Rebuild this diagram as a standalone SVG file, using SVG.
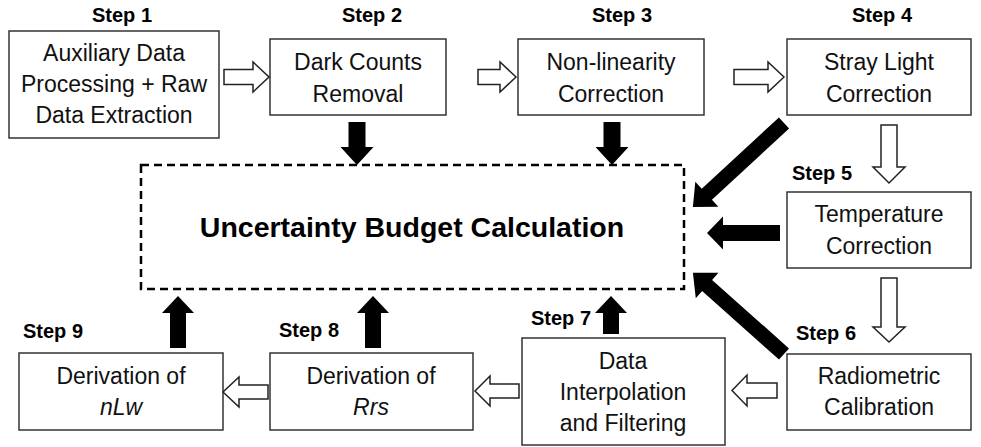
<svg xmlns="http://www.w3.org/2000/svg" width="981" height="447" viewBox="0 0 981 447">
  <style>
    .box { fill: #ffffff; stroke: #333333; stroke-width: 1.5; }
    .budget { fill: none; stroke: #000000; stroke-width: 2.5; stroke-dasharray: 8 5; }
    .txt { font-family: "Liberation Sans", Arial, sans-serif; font-size: 23px; fill: #111111; text-anchor: middle; }
    .step { font-family: "Liberation Sans", Arial, sans-serif; font-size: 20px; font-weight: bold; fill: #000000; }
    .title { font-family: "Liberation Sans", Arial, sans-serif; font-size: 28.5px; font-weight: bold; fill: #000000; text-anchor: middle; }
    .flow { fill: #ffffff; stroke: #222222; stroke-width: 1.5; stroke-linejoin: miter; }
    .unc { fill: #000000; stroke: none; }
  </style>

  <!-- central uncertainty budget -->
  <g id="budget">
    <rect class="budget" x="141" y="165" width="543" height="124"/>
    <text class="title" x="412" y="237">Uncertainty Budget Calculation</text>
  </g>

  <g id="step1">
    <text class="step" x="92" y="22">Step 1</text>
    <rect class="box" x="9" y="31" width="210" height="107"/>
    <text class="txt" x="114" y="61">Auxiliary Data</text>
    <text class="txt" x="114" y="92">Processing + Raw</text>
    <text class="txt" x="114" y="123">Data Extraction</text>
  </g>

  <g id="step2">
    <text class="step" x="342" y="22">Step 2</text>
    <rect class="box" x="270" y="39" width="176" height="76"/>
    <text class="txt" x="358" y="70">Dark Counts</text>
    <text class="txt" x="358" y="102">Removal</text>
  </g>

  <g id="step3">
    <text class="step" x="592" y="22">Step 3</text>
    <rect class="box" x="518" y="39" width="186" height="76"/>
    <text class="txt" x="611" y="70">Non-linearity</text>
    <text class="txt" x="611" y="102">Correction</text>
  </g>

  <g id="step4">
    <text class="step" x="852" y="22">Step 4</text>
    <rect class="box" x="787" y="39" width="184" height="76"/>
    <text class="txt" x="879" y="70">Stray Light</text>
    <text class="txt" x="879" y="102">Correction</text>
  </g>

  <g id="step5">
    <text class="step" x="792" y="180">Step 5</text>
    <rect class="box" x="787" y="192" width="184" height="76"/>
    <text class="txt" x="879" y="222">Temperature</text>
    <text class="txt" x="879" y="254">Correction</text>
  </g>

  <g id="step6">
    <text class="step" x="796" y="340">Step 6</text>
    <rect class="box" x="787" y="354" width="184" height="76"/>
    <text class="txt" x="879" y="384">Radiometric</text>
    <text class="txt" x="879" y="415">Calibration</text>
  </g>

  <g id="step7">
    <text class="step" x="531" y="325">Step 7</text>
    <rect class="box" x="522" y="338" width="203" height="107"/>
    <text class="txt" x="623" y="369">Data</text>
    <text class="txt" x="623" y="400">Interpolation</text>
    <text class="txt" x="623" y="431">and Filtering</text>
  </g>

  <g id="step8">
    <text class="step" x="279" y="337">Step 8</text>
    <rect class="box" x="270" y="353" width="203" height="77"/>
    <text class="txt" x="371" y="384">Derivation of</text>
    <text class="txt" x="371" y="415" font-style="italic">Rrs</text>
  </g>

  <g id="step9">
    <text class="step" x="23" y="338">Step 9</text>
    <rect class="box" x="19" y="353" width="204" height="77"/>
    <text class="txt" x="121" y="384">Derivation of</text>
    <text class="txt" x="121" y="415" font-style="italic">nLw</text>
  </g>

  <g id="connectors">
    <!-- processing chain (hollow arrows) -->
    <polygon class="flow" points="224,69.5 253,69.5 253,62 269,77 253,92 253,84.5 224,84.5"/>
    <polygon class="flow" points="478,69.5 500,69.5 500,62 516,77 500,92 500,84.5 478,84.5"/>
    <polygon class="flow" points="734,69.5 768,69.5 768,62 784,77 768,92 768,84.5 734,84.5"/>
    <polygon class="flow" points="881,125 897,125 897,167 905,167 889,183 873,167 881,167"/>
    <polygon class="flow" points="881,278 897,278 897,327 905,327 889,342 873,327 881,327"/>
    <polygon class="flow" points="777,383 747,383 747,375 732,390.5 747,406 747,398 777,398"/>
    <polygon class="flow" points="519,384 490,384 490,376 475,391 490,406 490,398 519,398"/>
    <polygon class="flow" points="268,385 239,385 239,377 223,392 239,407 239,399 268,399"/>

    <!-- uncertainty contributions (solid arrows) -->
    <polygon class="unc" points="348.5,122 365.5,122 365.5,147 373.5,147 357,165 340.5,147 348.5,147"/>
    <polygon class="unc" points="603.5,122 620.5,122 620.5,147 628.5,147 612,165 595.5,147 603.5,147"/>
    <polygon class="unc" points="780,225 723,225 723,216.5 707,233 723,249.5 723,241 780,241"/>
    <path class="unc" transform="translate(784,123) rotate(137.3)" d="M0,-7.5 L105,-7.5 L105,-17 L124,0 L105,17 L105,7.5 L0,7.5 Z"/>
    <path class="unc" transform="translate(784,354) rotate(-138.3)" d="M0,-7.5 L103,-7.5 L103,-17 L122,0 L103,17 L103,7.5 L0,7.5 Z"/>
    <polygon class="unc" points="170,348 186,348 186,313 194,313 178,296 162,313 170,313"/>
    <polygon class="unc" points="365,348 381,348 381,313 389,313 373,296 357,313 365,313"/>
    <polygon class="unc" points="603,334 619,334 619,313 627,313 611,296 595,313 603,313"/>
  </g>
</svg>
